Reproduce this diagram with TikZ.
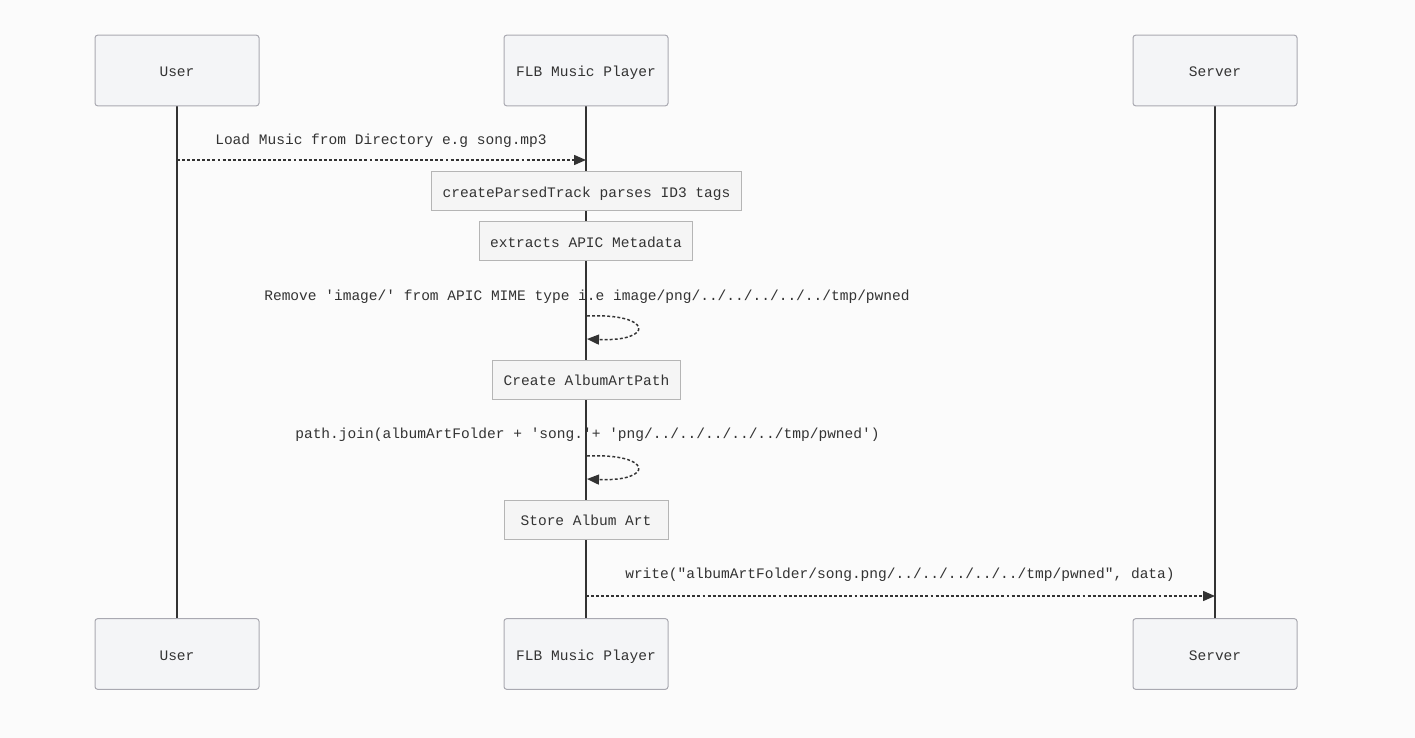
\documentclass[tikz,border=0pt]{standalone}
\usepackage{fontspec}
\setmonofont{Liberation Mono}
\usetikzlibrary{arrows.meta}

\definecolor{bgc}{HTML}{FBFBFB}
\definecolor{actfill}{HTML}{F4F5F7}
\definecolor{actdraw}{HTML}{A9A9B1}
\definecolor{notefill}{HTML}{F5F5F5}
\definecolor{notedraw}{HTML}{B5B5B5}
\definecolor{ink}{HTML}{333333}

\tikzset{
  actor/.style={draw=actdraw, fill=actfill, line width=0.75pt, rounded corners=2pt,
    minimum width=123pt, minimum height=53pt, inner sep=0pt, text=ink,
    text height=9.5pt, text depth=0pt},
  note/.style={draw=notedraw, fill=notefill, line width=0.75pt,
    minimum height=29.25pt, inner xsep=8pt, inner ysep=0pt, text=ink,
    text height=9.5pt, text depth=0pt},
  lifeline/.style={draw=ink, line width=1.5pt},
  msg/.style={draw=ink, line width=1.1pt, dash pattern=on 2.2pt off 1.6pt,
    -{Triangle[length=9pt,width=7.5pt]}},
  msglabel/.style={text=ink, inner sep=0pt, text height=9.5pt, text depth=0pt}
}

\begin{document}
\begin{tikzpicture}[x=0.75pt, y=-0.75pt, font=\ttfamily\fontsize{10.9}{13}\selectfont]
            \fill[bgc] (0,0) rectangle (1415,738);
            \useasboundingbox (0,0) rectangle (1415,738);

            % lifelines first, boxes on top
            \coordinate (userTop) at (177,106);
            \coordinate (userBot) at (177,619);
            \coordinate (playerTop) at (586,106);
            \coordinate (playerBot) at (586,619);
            \coordinate (serverTop) at (1215,106);
            \coordinate (serverBot) at (1215,619);
            \draw[lifeline] (userTop) -- (userBot);
            \draw[lifeline] (playerTop) -- (playerBot);
            \draw[lifeline] (serverTop) -- (serverBot);

            \node[actor] (userT) at (177,70.5) {User};
            \node[actor] (playerT) at (586,70.5) {FLB Music Player};
            \node[actor] (serverT) at (1215,70.5) {Server};
            \node[actor] (userB) at (177,654) {User};
            \node[actor] (playerB) at (586,654) {FLB Music Player};
            \node[actor] (serverB) at (1215,654) {Server};

            % load
            \coordinate (loadA) at (177,160);
            \coordinate (loadB) at (586,160);
            \draw[msg] (loadA) -- (loadB);
            \node[msglabel] (loadLbl) at (381,138) {Load Music from Directory e.g song.mp3};

            \node[note] (parse) at (586.5,191.5) {createParsedTrack parses ID3 tags};
            \node[note] (extract) at (586,241.5) {extracts APIC Metadata};

            % self call 1
            \node[msglabel] (mimeLbl) at (587,294) {Remove 'image/' from APIC MIME type i.e image/png/../../../../../tmp/pwned};
            \coordinate (selfA) at (587,316);
            \coordinate (selfB) at (587,339);
            \draw[msg] (selfA) .. controls (654,313) and (654,342) .. (selfB);

            \node[note] (mkpath) at (586.5,379.5) {Create AlbumArtPath};

            % self call 2
            \node[msglabel] (joinLbl) at (587.5,432) {path.join(albumArtFolder + 'song.'+ 'png/../../../../../tmp/pwned')};
            \coordinate (selfC) at (587,456);
            \coordinate (selfD) at (587,479);
            \draw[msg] (selfC) .. controls (654,453) and (654,482) .. (selfD);

            \node[note, minimum width=123pt] (store) at (586,519.5) {Store Album Art};

            % write
            \coordinate (writeA) at (586,596);
            \coordinate (writeB) at (1215,596);
            \draw[msg] (writeA) -- (writeB);
            \node[msglabel] (writeLbl) at (900,572) {write("albumArtFolder/song.png/../../../../../tmp/pwned", data)};

        \end{tikzpicture}
\end{document}
